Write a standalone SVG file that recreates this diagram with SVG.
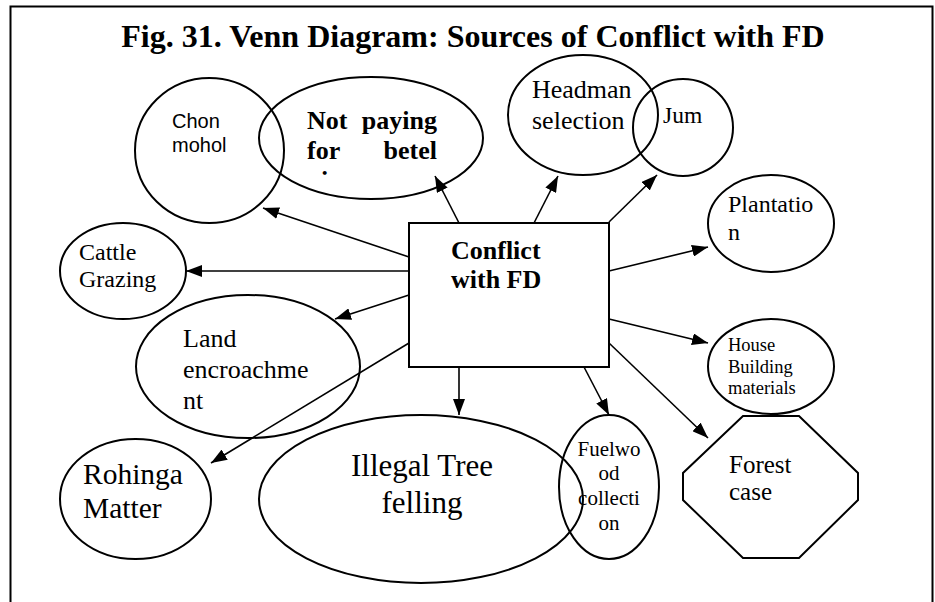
<svg xmlns="http://www.w3.org/2000/svg" width="935" height="602" viewBox="0 0 935 602">
  <style>
    .shape { fill: none; stroke: #000; stroke-width: 2; }
    .box { fill: #fff; stroke: #000; stroke-width: 2; }
    .edge { fill: none; stroke: #000; stroke-width: 1.6; marker-end: url(#arrow); }
    .serif { font-family: "Liberation Serif", "Times New Roman", serif; fill: #000; }
    .sans { font-family: "Liberation Sans", Arial, sans-serif; fill: #000; }
    .bold { font-weight: bold; }
  </style>
  <defs>
    <marker id="arrow" viewBox="0 0 16 12" refX="16" refY="6" markerWidth="16" markerHeight="12" markerUnits="userSpaceOnUse" orient="auto">
      <path d="M0,0 L16,6 L0,12 Z" fill="#000"/>
    </marker>
    <!-- the label box cuts off its third line -->
    <clipPath id="betel-clip">
      <rect x="290" y="100" width="170" height="76"/>
    </clipPath>
  </defs>

  <rect width="935" height="602" fill="#fff"/>

  <!-- page frame, open at the bottom -->
  <path d="M10.5,602 V6.5 H932.5 V602" fill="none" stroke="#000" stroke-width="2"/>

  <text class="serif bold" x="473" y="47" font-size="32" text-anchor="middle">Fig. 31. Venn Diagram: Sources of Conflict with FD</text>

  <g id="connectors">
    <line class="edge" x1="459" y1="223" x2="435" y2="176"/>
    <line class="edge" x1="534" y1="223" x2="558" y2="176"/>
    <line class="edge" x1="609" y1="222" x2="657" y2="175"/>
    <line class="edge" x1="409" y1="257" x2="263" y2="208"/>
    <line class="edge" x1="409" y1="271" x2="186" y2="271"/>
    <line class="edge" x1="409" y1="295" x2="335" y2="319"/>
    <line class="edge" x1="409" y1="343" x2="211" y2="463"/>
    <line class="edge" x1="459" y1="367" x2="459" y2="415"/>
    <line class="edge" x1="584" y1="367" x2="609" y2="415"/>
    <line class="edge" x1="609" y1="271" x2="708" y2="247"/>
    <line class="edge" x1="609" y1="319" x2="708" y2="343"/>
    <line class="edge" x1="609" y1="343" x2="708" y2="438"/>
  </g>

  <g id="conflict-fd">
    <rect class="box" x="409" y="223" width="200" height="144"/>
    <text class="serif bold" font-size="26"><tspan x="451" y="259">Conflict</tspan><tspan x="451" y="288">with FD</tspan></text>
  </g>

  <g id="chon-mohol">
    <ellipse class="shape" cx="209.5" cy="150.5" rx="74.5" ry="72.5"/>
    <text class="sans" font-size="20"><tspan x="172" y="128">Chon</tspan><tspan x="172" y="152">mohol</tspan></text>
  </g>

  <g id="not-paying">
    <ellipse class="shape" cx="371" cy="138" rx="112" ry="61"/>
    <g class="serif bold" font-size="26" clip-path="url(#betel-clip)">
      <text x="307" y="129">Not</text>
      <text x="437" y="129" text-anchor="end">paying</text>
      <text x="307" y="159">for</text>
      <text x="437" y="159" text-anchor="end">betel</text>
      <text x="321" y="189">i</text>
    </g>
  </g>

  <g id="headman-selection">
    <ellipse class="shape" cx="583" cy="115" rx="75" ry="60"/>
    <text class="serif" font-size="26"><tspan x="532" y="98">Headman</tspan><tspan x="532" y="129">selection</tspan></text>
  </g>

  <g id="jum">
    <ellipse class="shape" cx="683" cy="127.5" rx="50" ry="48.5"/>
    <text class="serif" font-size="23.5" x="663" y="123">Jum</text>
  </g>

  <g id="plantation">
    <ellipse class="shape" cx="771" cy="223.5" rx="63" ry="48.5"/>
    <text class="serif" font-size="24"><tspan x="728" y="212">Plantatio</tspan><tspan x="728" y="240">n</tspan></text>
  </g>

  <g id="cattle-grazing">
    <ellipse class="shape" cx="123" cy="271" rx="63" ry="48"/>
    <text class="serif" font-size="24"><tspan x="79" y="260">Cattle</tspan><tspan x="79" y="287">Grazing</tspan></text>
  </g>

  <g id="land-encroachment">
    <ellipse class="shape" cx="248" cy="366.5" rx="112" ry="71.5"/>
    <text class="serif" font-size="26"><tspan x="183" y="347">Land</tspan><tspan x="183" y="378">encroachme</tspan><tspan x="183" y="409">nt</tspan></text>
  </g>

  <g id="house-building">
    <ellipse class="shape" cx="771" cy="366.5" rx="63" ry="47.5"/>
    <text class="serif" font-size="18.5"><tspan x="728" y="351">House</tspan><tspan x="728" y="373">Building</tspan><tspan x="728" y="394">materials</tspan></text>
  </g>

  <g id="rohinga-matter">
    <ellipse class="shape" cx="135.5" cy="499" rx="75.5" ry="60"/>
    <text class="serif" font-size="29.5"><tspan x="83" y="484">Rohinga</tspan><tspan x="83" y="518">Matter</tspan></text>
  </g>

  <g id="illegal-tree-felling">
    <ellipse class="shape" cx="421" cy="499" rx="162" ry="84"/>
    <text class="serif" font-size="31" text-anchor="middle"><tspan x="422" y="476">Illegal Tree</tspan><tspan x="422" y="513">felling</tspan></text>
  </g>

  <g id="fuelwood-collection">
    <ellipse class="shape" cx="609" cy="487" rx="50" ry="72"/>
    <text class="serif" font-size="21" text-anchor="middle"><tspan x="609" y="456">Fuelwo</tspan><tspan x="609" y="480">od</tspan><tspan x="609" y="505">collecti</tspan><tspan x="609" y="530">on</tspan></text>
  </g>

  <g id="forest-case">
    <polygon class="shape" points="743,416 799,416 858,473 858,500 799,558 743,558 683,500 683,473"/>
    <text class="serif" font-size="25"><tspan x="729" y="473">Forest</tspan><tspan x="729" y="500">case</tspan></text>
  </g>
</svg>
